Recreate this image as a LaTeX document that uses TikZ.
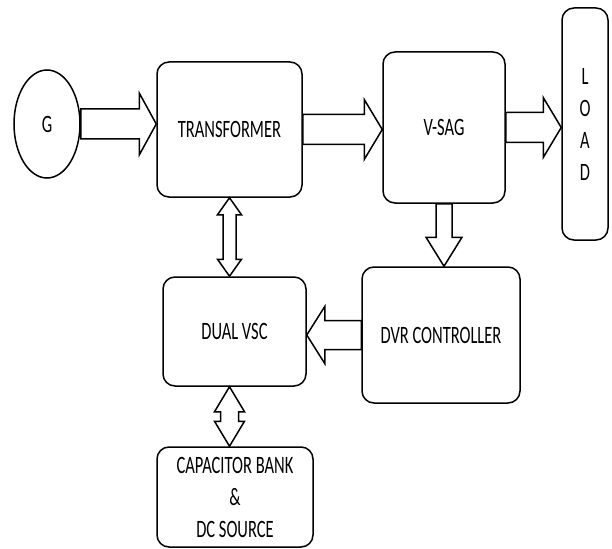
\documentclass[tikz,border=0pt]{standalone}
\usepackage{fontspec}
\setmainfont{Carlito}[FakeStretch=0.66]
\usetikzlibrary{shapes.geometric,calc}

\tikzset{
	blk/.style={draw, line width=1.5pt, rounded corners=12pt, align=center,
		font=\fontsize{25}{32}\selectfont},
	% single block arrow: shaft half width / head half width / head length
	barrow/.style args={#1/#2/#3}{draw, line width=1.5pt, fill=white,
		to path={let \p1=(\tikztostart), \p2=(\tikztotarget), \p3=($(\p2)!#3!(\p1)$) in
			($(\p1)!#1!90:(\p2)$) -- ($(\p3)!#1!90:(\p2)$) -- ($(\p3)!#2!90:(\p2)$) -- (\p2)
			-- ($(\p3)!#2!-90:(\p2)$) -- ($(\p3)!#1!-90:(\p2)$) -- ($(\p1)!#1!-90:(\p2)$) -- cycle}},
	% double block arrow
	dbarrow/.style args={#1/#2/#3}{draw, line width=1.5pt, fill=white,
		to path={let \p1=(\tikztostart), \p2=(\tikztotarget), \p3=($(\p2)!#3!(\p1)$), \p4=($(\p1)!#3!(\p2)$) in
			(\p1) -- ($(\p4)!#2!90:(\p2)$) -- ($(\p4)!#1!90:(\p2)$) -- ($(\p3)!#1!90:(\p2)$) -- ($(\p3)!#2!90:(\p2)$) -- (\p2)
			-- ($(\p3)!#2!-90:(\p2)$) -- ($(\p3)!#1!-90:(\p2)$) -- ($(\p4)!#1!-90:(\p2)$) -- ($(\p4)!#2!-90:(\p2)$) -- cycle}},
}

\begin{document}
\begin{tikzpicture}[x=1pt, y=-1pt]
	\useasboundingbox (0,0) rectangle (612,548);

	\node[draw, line width=1.5pt, ellipse, minimum width=66pt, minimum height=108pt,
		font=\fontsize{25}{32}\selectfont] (gen) at (47,124) {G};
	\node[blk, minimum width=145pt, minimum height=135pt] (trans) at (229.5,129.5) {TRANSFORMER};
	\node[blk, minimum width=122pt, minimum height=151pt] (vsag) at (444,127.5) {V-SAG};
	\node[blk, minimum width=46pt, minimum height=232pt] (load) at (585,124) {L\\O\\A\\D};
	\node[blk, minimum width=158pt, minimum height=136pt] (dvr) at (441,335) {DVR CONTROLLER};
	\node[blk, minimum width=143pt, minimum height=109pt] (vsc) at (234.5,331.5) {DUAL VSC};
	\node[blk, minimum width=156pt, minimum height=100pt] (cap) at (235,497) {CAPACITOR BANK\\\&\\DC SOURCE};

	\draw[barrow=15pt/31pt/17pt] (gen.east) to (gen.east -| trans.west);
	\draw[barrow=15pt/30pt/18pt] (trans.east) to (trans.east -| vsag.west);
	\draw[barrow=15pt/30pt/18pt] (vsag.east) to (vsag.east -| load.west);
	\draw[barrow=8pt/18pt/29pt] (vsag.south) to (vsag.south |- dvr.north);
	\draw[barrow=14.5pt/28.5pt/18pt] (dvr.west) to (dvr.west -| vsc.east);
	\draw[dbarrow=6.5pt/12pt/17pt] (trans.south) to (trans.south |- vsc.north);
	\draw[dbarrow=9pt/15pt/25pt] (vsc.south -| trans.south) to (cap.north -| trans.south);
\end{tikzpicture}
\end{document}
